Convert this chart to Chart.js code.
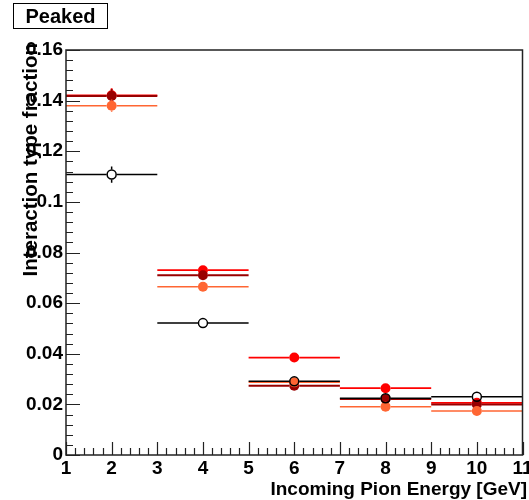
<!DOCTYPE html>
<html>
<head>
<meta charset="utf-8">
<script src="https://cdn.jsdelivr.net/npm/chart.js@4"></script>
<style>
  body { margin: 0; background: #fff; }
  #wrap { position: relative; width: 529px; height: 500px; }
  #label {
    position: absolute; left: 13px; top: 3px; width: 95px; height: 26px;
    border: 1.5px solid #000; box-sizing: border-box;
    font: bold 20px "Liberation Sans", Arial, sans-serif;
    text-align: center; line-height: 24px; color: #000;
  }
</style>
</head>
<body>
<div id="wrap">
  <canvas id="c" width="529" height="500"></canvas>
  <div id="label">Peaked</div>
</div>
<script>
// bin centres and half widths (GeV)
const energies = [2, 4, 6, 8, 10];
const binHalfWidth = [1, 1, 1, 1, 1];

// fractions per sample
const blackVals   = [0.1108, 0.0521, 0.0291, 0.0224, 0.0230];
const orangeVals  = [0.1380, 0.0665, 0.0287, 0.0191, 0.0174];
const darkRedVals = [0.1418, 0.0710, 0.0274, 0.0221, 0.0200];
const redVals     = [0.1421, 0.0730, 0.0385, 0.0264, 0.0206];

// vertical error bars
const blackErr   = [0.0032, 0.0016, 0.0011, 0.0010, 0.0010];
const orangeErr  = [0.0024, 0.0016, 0.0011, 0.0009, 0.0009];
const darkRedErr = [0.0028, 0.0018, 0.0012, 0.0010, 0.0010];
const redErr     = [0.0028, 0.0019, 0.0013, 0.0011, 0.0010];

const yTickLabels = ['0', '0.02', '0.04', '0.06', '0.08', '0.1', '0.12', '0.14', '0.16'];

const FONT = '"Liberation Sans", Arial, sans-serif';
const R = 5; // marker radius

function points(vals) {
  return energies.map((e, i) => ({ x: e, y: vals[i] }));
}

function series(vals, errs, color, lineWidth, hollow) {
  return {
    data: points(vals),
    errs: errs,
    barColor: color,
    barWidth: lineWidth,
    pointRadius: hollow ? R - 0.5 : R,
    pointHoverRadius: R,
    pointBackgroundColor: hollow ? 'rgba(0,0,0,0)' : color,
    pointBorderColor: color,
    pointBorderWidth: hollow ? 1.5 : 0,
    showLine: false,
  };
}

// horizontal bin-width bars and vertical error bars, drawn under each dataset's markers
// (ROOT leaves a gap where the marker sits)
const errorBars = {
  id: 'errorBars',
  beforeDatasetDraw(chart, args) {
    const ds = chart.data.datasets[args.index];
    const xs = chart.scales.x, ys = chart.scales.y;
    const ctx = chart.ctx;
    const area = chart.chartArea;
    ctx.save();
    ctx.beginPath();
    ctx.rect(area.left, area.top, area.right - area.left, area.bottom - area.top);
    ctx.clip();
    ctx.strokeStyle = ds.barColor;
    ctx.lineWidth = ds.barWidth;
    ds.data.forEach((p, i) => {
      const y = ys.getPixelForValue(p.y);
      const x = xs.getPixelForValue(p.x);
      const xl = xs.getPixelForValue(p.x - binHalfWidth[i]);
      const xr = xs.getPixelForValue(p.x + binHalfWidth[i]);
      const yt = ys.getPixelForValue(p.y + ds.errs[i]);
      const yb = ys.getPixelForValue(p.y - ds.errs[i]);
      ctx.beginPath();
      ctx.moveTo(xl, y); ctx.lineTo(x - R, y);
      ctx.moveTo(x + R, y); ctx.lineTo(xr, y);
      if (yt < y - R) { ctx.moveTo(x, y - R); ctx.lineTo(x, yt); }
      if (yb > y + R) { ctx.moveTo(x, y + R); ctx.lineTo(x, yb); }
      ctx.stroke();
    });
    ctx.restore();
  }
};

// ROOT style frame with inward ticks plus axis titles
const frame = {
  id: 'frame',
  afterDraw(chart) {
    const ctx = chart.ctx;
    const a = chart.chartArea;
    const xs = chart.scales.x, ys = chart.scales.y;
    ctx.save();
    ctx.strokeStyle = '#222';
    ctx.lineWidth = 1.5;
    ctx.strokeRect(a.left, a.top, a.right - a.left, a.bottom - a.top);

    ctx.lineWidth = 1.2;
    ctx.beginPath();
    for (let k = 0; k <= 40; k++) {
      const v = k * 0.004;
      const y = Math.round(ys.getPixelForValue(v)) + 0.5;
      const len = k % 5 === 0 ? 14 : 7;
      ctx.moveTo(a.left, y);
      ctx.lineTo(a.left + len, y);
    }
    for (let k = 0; k <= 50; k++) {
      const v = 1 + k * 0.2;
      const x = Math.round(xs.getPixelForValue(v)) + 0.5;
      const len = k % 5 === 0 ? 13 : 7;
      ctx.moveTo(x, a.bottom);
      ctx.lineTo(x, a.bottom - len);
    }
    ctx.stroke();

    ctx.fillStyle = '#000';
    ctx.font = 'bold 19px ' + FONT;
    ctx.textAlign = 'right';
    ctx.textBaseline = 'alphabetic';
    ctx.fillText('Incoming Pion Energy [GeV]', 527, 495);

    ctx.font = 'bold 20.5px ' + FONT;
    ctx.translate(37, 43);
    ctx.rotate(-Math.PI / 2);
    ctx.fillText('Interaction type fraction', 0, 0);
    ctx.restore();
  }
};

new Chart(document.getElementById('c'), {
  type: 'scatter',
  data: {
    datasets: [
      series(blackVals, blackErr, '#000000', 1.5, true),
      series(orangeVals, orangeErr, '#ff6633', 1.5, false),
      series(darkRedVals, darkRedErr, '#990000', 2, false),
      series(redVals, redErr, '#ff0000', 1.8, false),
    ]
  },
  options: {
    responsive: false,
    animation: false,
    layout: { padding: { top: 50, right: 4, left: 0, bottom: 0 } },
    plugins: { legend: { display: false }, tooltip: { enabled: false } },
    scales: {
      x: {
        type: 'linear', min: 1, max: 11,
        grid: { display: false, drawTicks: false },
        border: { display: false },
        ticks: {
          stepSize: 1, autoSkip: false, maxRotation: 0, padding: 2,
          color: '#000', font: { family: FONT, size: 19, weight: 'bold' },
          callback: v => String(v)
        },
        afterFit: s => { s.height = 45; s.paddingLeft = 0; s.paddingRight = 0; }
      },
      y: {
        type: 'linear', min: 0, max: 0.16,
        grid: { display: false, drawTicks: false },
        border: { display: false },
        ticks: {
          stepSize: 0.02, autoSkip: false, padding: 3,
          color: '#000', font: { family: FONT, size: 19, weight: 'bold' },
          callback: (v, i) => yTickLabels[i]
        },
        afterFit: s => { s.width = 66; s.paddingTop = 0; s.paddingBottom = 0; }
      }
    }
  },
  plugins: [errorBars, frame]
});
</script>
</body>
</html>
